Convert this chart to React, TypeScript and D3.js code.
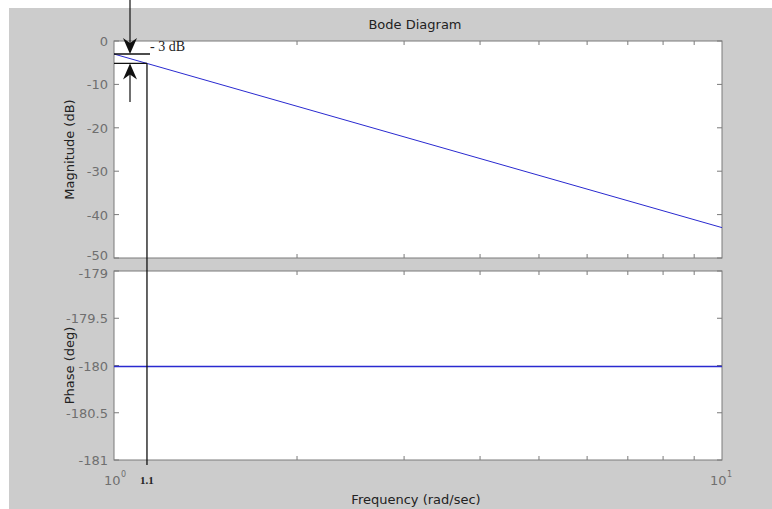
import React from "react";
import * as d3 from "d3";

const freqs = [1, 2, 5, 10];
const magnitudeDb = [-3, -15.04, -30.96, -43];
const phaseDeg = [-180, -180, -180, -180];
const magTicks = [0, -10, -20, -30, -40, -50];
const phaseTicks = [-179, -179.5, -180, -180.5, -181];
const cutoffFreq = 1.133;
const cutoffLabel = "1.1";
const dbLabel = "- 3 dB";

const W = 772, H = 509;
const L = 114, R = 722;
const magTop = 41, magBot = 258;
const phTop = 271, phBot = 460;

export default function App() {
  const x = d3.scaleLog().domain([1, 10]).range([L, R]);
  const yMag = d3.scaleLinear().domain([-50, 0]).range([magBot, magTop]);
  const yPh = d3.scaleLinear().domain([-181, -179]).range([phBot, phTop]);
  const minor = d3.range(2, 10);
  const magLine = d3.line<number>().x((_, i) => x(freqs[i])).y((d) => yMag(d));
  const phLine = d3.line<number>().x((_, i) => x(freqs[i])).y((d) => Math.round(yPh(d)) + 0.5);
  const axisCol = "#7a7a7a";
  const labCol = "#6f6f6f";
  const font = "DejaVu Sans, Verdana, sans-serif";
  const xc = x(cutoffFreq);
  const xArrow = 130;
  const y3 = yMag(magnitudeDb[0]);
  const yc = yMag(-3 - 40 * Math.log10(cutoffFreq));

  const axesBox = (top: number, bot: number) => (
    <g>
      <rect x={L} y={top} width={R - L} height={bot - top} fill="#fff" stroke={axisCol} strokeWidth={1} />
      {minor.map((m) => (
        <g key={m}>
          <line x1={x(m)} x2={x(m)} y1={top} y2={top + 4} stroke={axisCol} />
          <line x1={x(m)} x2={x(m)} y1={bot} y2={bot - 4} stroke={axisCol} />
        </g>
      ))}
    </g>
  );

  return (
    <svg width={W} height={H} style={{ position: "absolute", left: 0, top: 0 }} fontFamily={font}>
      <rect x={0} y={0} width={W} height={H} fill="#fff" />
      <rect x={9} y={8} width={W - 9} height={H - 8} fill="#cccccc" />
      {axesBox(magTop, magBot)}
      {axesBox(phTop, phBot)}
      {magTicks.map((t) => (
        <g key={t}>
          <line x1={L} x2={L + 5} y1={yMag(t)} y2={yMag(t)} stroke={axisCol} />
          <line x1={R} x2={R - 5} y1={yMag(t)} y2={yMag(t)} stroke={axisCol} />
          <text x={L - 6} y={yMag(t) + (t === -50 ? 2 : 5)} textAnchor="end" fontSize={13} fill={labCol}>{t}</text>
        </g>
      ))}
      {phaseTicks.map((t) => (
        <g key={t}>
          <line x1={L} x2={L + 5} y1={yPh(t)} y2={yPh(t)} stroke={axisCol} />
          <line x1={R} x2={R - 5} y1={yPh(t)} y2={yPh(t)} stroke={axisCol} />
          <text x={L - 6} y={yPh(t) + (t === -179 ? 7 : 5)} textAnchor="end" fontSize={13} fill={labCol}>{t}</text>
        </g>
      ))}
      <path d={magLine(magnitudeDb) || ""} fill="none" stroke="#2a2ad0" strokeWidth={1} />
      <path d={phLine(phaseDeg) || ""} fill="none" stroke="#2a2ad0" strokeWidth={1.5} />
      <text x={415} y={29} textAnchor="middle" fontSize={13} fill="#222">Bode Diagram</text>
      <text x={416} y={504} textAnchor="middle" fontSize={13} fill="#222">Frequency  (rad/sec)</text>
      <text transform={`translate(74,${(magTop + magBot) / 2}) rotate(-90)`} textAnchor="middle" fontSize={13} fill="#222">Magnitude (dB)</text>
      <text transform={`translate(74,${(phTop + phBot) / 2}) rotate(-90)`} textAnchor="middle" fontSize={13} fill="#222">Phase (deg)</text>
      <text x={L - 10} y={485} fontSize={13} fill={labCol}>10</text>
      <text x={L + 7} y={477} fontSize={8} fill={labCol}>0</text>
      <text x={R - 12} y={485} fontSize={13} fill={labCol}>10</text>
      <text x={R + 5} y={477} fontSize={8} fill={labCol}>1</text>
      {/* annotation */}
      <line x1={xc} x2={xc} y1={yc} y2={465} stroke="#111" strokeWidth={1.3} />
      <line x1={L} x2={150} y1={y3} y2={y3} stroke="#111" strokeWidth={1.3} />
      <line x1={L} x2={xc} y1={yc} y2={yc} stroke="#111" strokeWidth={1.3} />
      <line x1={xArrow} x2={xArrow} y1={0} y2={y3 - 2} stroke="#111" strokeWidth={1.2} />
      <path d={`M${xArrow},${y3} L${xArrow - 7},${y3 - 16} L${xArrow},${y3 - 11} L${xArrow + 7},${y3 - 16} Z`} fill="#111" />
      <line x1={xArrow} x2={xArrow} y1={yc + 2} y2={102} stroke="#111" strokeWidth={1.2} />
      <path d={`M${xArrow},${yc} L${xArrow - 7},${yc + 16} L${xArrow},${yc + 11} L${xArrow + 7},${yc + 16} Z`} fill="#111" />
      <text x={150} y={51} fontSize={14} fontFamily="Liberation Serif, Times New Roman, serif" fill="#222">{dbLabel}</text>
      <text x={xc} y={484} textAnchor="middle" fontSize={11} fontWeight="bold" fontFamily="Liberation Serif, Times New Roman, serif" fill="#222">{cutoffLabel}</text>
    </svg>
  );
}
